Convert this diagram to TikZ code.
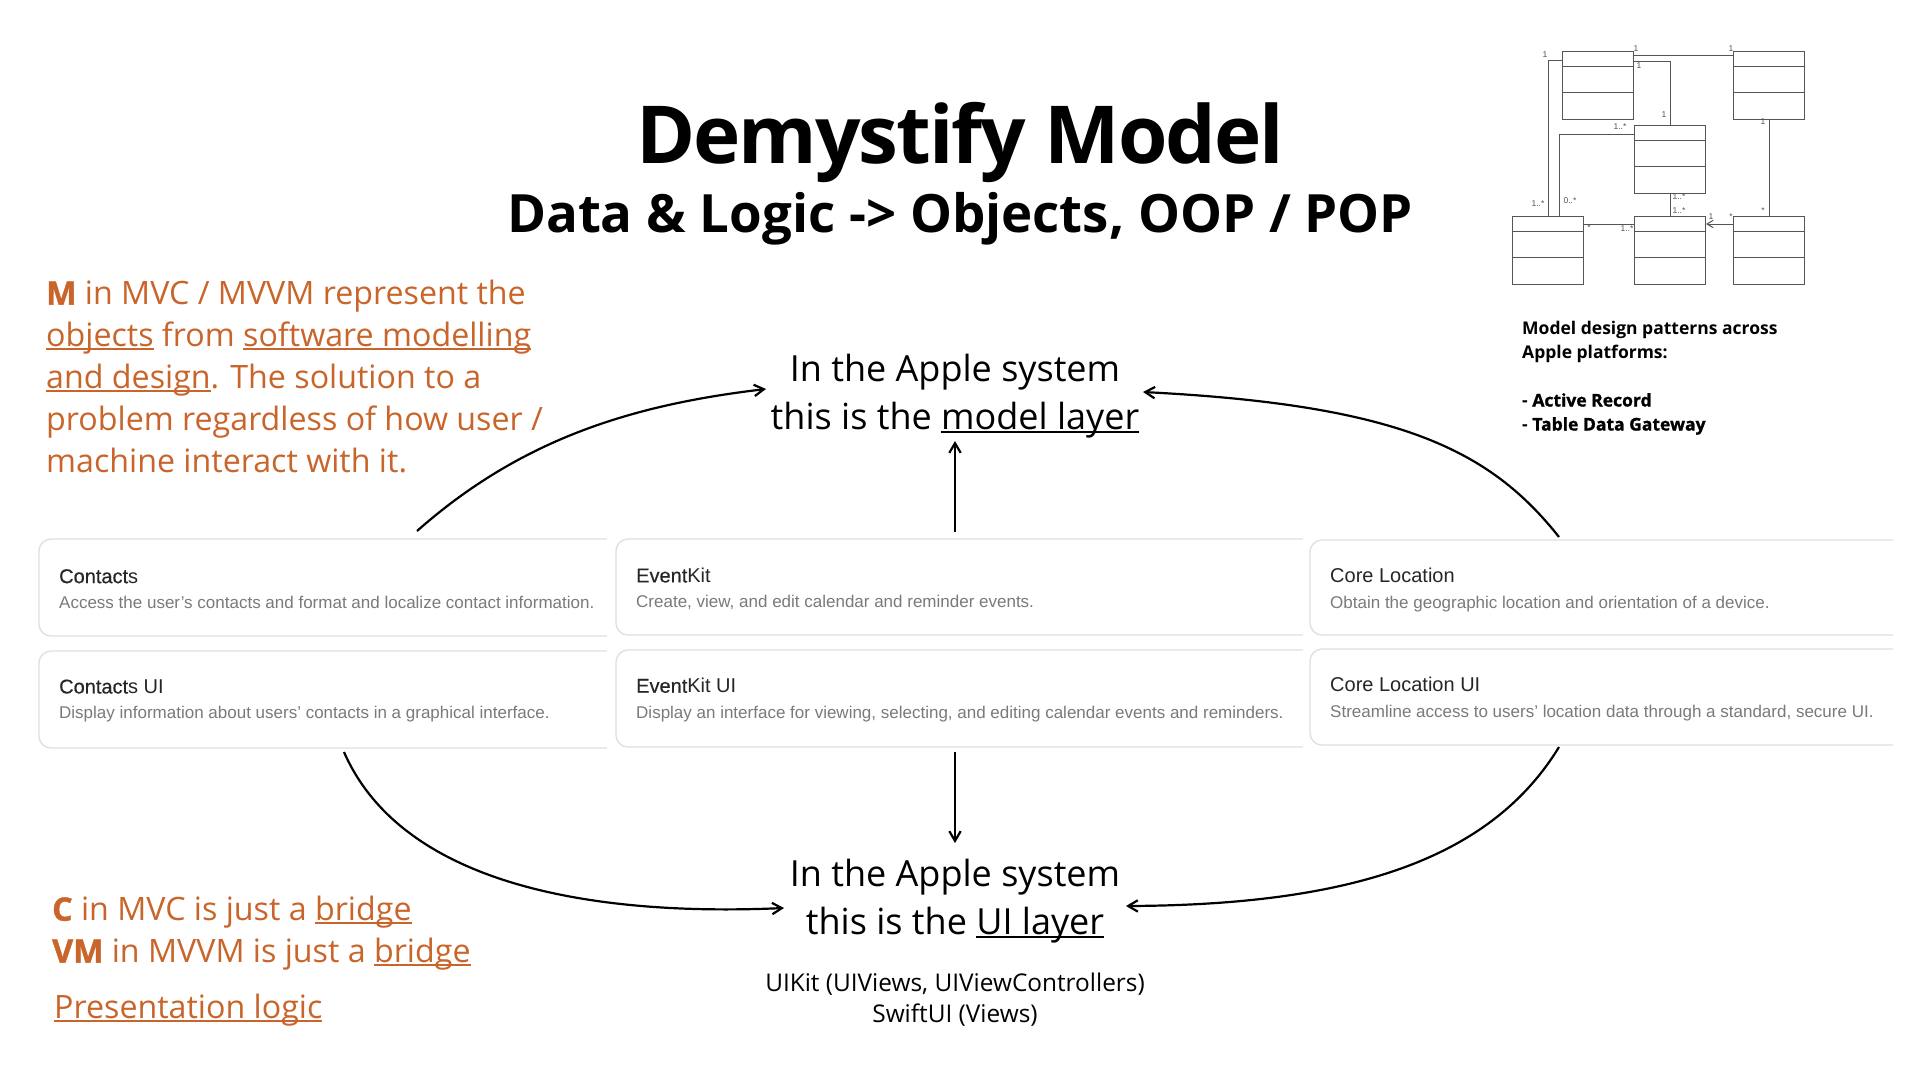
\documentclass[tikz,border=0pt]{standalone}
\usepackage{fontspec}
\usepackage{xcolor}
\setmainfont{Open Sans}
\newfontfamily\cardfont{Liberation Sans}
\usetikzlibrary{arrows.meta, positioning, calc}
\definecolor{rust}{HTML}{C9652B}
\definecolor{cardline}{HTML}{E0E0E0}
\definecolor{cardgrey}{HTML}{7A7A7C}
\definecolor{umlline}{HTML}{555555}
\newcommand{\fs}[2]{\fontsize{#1}{#2}\selectfont}
\newcommand{\heavy}[1]{{\bfseries\addfontfeature{FakeBold=1.2}#1}}
\newcommand{\lineunder}[1]{\setbox0=\hbox{#1}\rlap{\rule[-0.1em]{\wd0}{0.055em}}\box0\relax}
\newcommand{\med}[1]{{\addfontfeature{FakeBold=0.4}#1}}
\newcommand{\cardtext}[2]{{\cardfont\fs{20}{24}\color{black!85}#1}\\[12pt]{\cardfont\fs{17}{20}\color{cardgrey}#2}}
\begin{document}
\begin{tikzpicture}[
        x=1pt, y=-1pt,
        title/.style={inner sep=0pt, align=center, font=\fs{80}{90}\bfseries\addfontfeature{LetterSpace=-2.5}},
        subtitle/.style={inner sep=0pt, align=center, font=\fs{52.8}{60}\bfseries},
        layer/.style={inner sep=0pt, align=center, font=\fs{36}{48}},
        note/.style={inner sep=0pt, align=left, anchor=north west, text=rust, font=\fs{32.2}{42}},
        small/.style={inner sep=0pt, align=center, font=\fs{24.4}{31}},
        cardlabel/.style={inner sep=0pt, align=left, anchor=west},
        umlbox/.style={draw=umlline, line width=1pt, minimum width=71pt, minimum height=68pt, inner sep=0pt, anchor=north west},
        uml/.style={draw=umlline, line width=1pt},
        mult/.style={inner sep=0pt, text=umlline, font=\cardfont\fs{8.5}{9}},
        arrow/.style={-{Straight Barb[length=3.4mm, width=4mm]}, line width=2.2pt},
        card/.style={draw=cardline, line width=1.4pt, rounded corners=12pt}
    ]
    \useasboundingbox (0,0) rectangle (1920,1080);
    \fill[white] (0,0) rectangle (1920,1080);

    % heading
    \node[title] (head) at (960,142) {Demystify Model};
    \node[subtitle] (sub) at (960,219) {Data \& Logic -> Objects, OOP / POP};

    % the two layers
    \node[layer] (model) at (955,396) {In the Apple system\\this is the \lineunder{model layer}};
    \node[layer] (ui) at (955,901) {In the Apple system\\this is the \lineunder{UI layer}};
    \node[small] (uikit) at (955,1000) {UIKit (UIViews, UIViewControllers)\\SwiftUI (Views)};

    % notes
    \node[note] (mnote) at (46,280) {\heavy{M} in MVC / MVVM represent the\\\lineunder{objects} from \lineunder{software modelling}\\\lineunder{and design}. The solution to a\\problem regardless of how user /\\machine interact with it.};
    \node[note] (cnote) at (52,896) {\heavy{C} in MVC is just a \lineunder{bridge}\\\heavy{VM} in MVVM is just a \lineunder{bridge}};
    \node[note] (plogic) at (54,994) {\lineunder{Presentation logic}};

    % cards
    \draw[card] (607,539) -- (39,539) -- (39,636) -- (607,636);
    \draw[card] (607,651) -- (39,651) -- (39,748) -- (607,748);
    \draw[card] (1303,539) -- (616,539) -- (616,635) -- (1303,635);
    \draw[card] (1303,650) -- (616,650) -- (616,747) -- (1303,747);
    \draw[card] (1893,540) -- (1310,540) -- (1310,635) -- (1893,635);
    \draw[card] (1893,649) -- (1310,649) -- (1310,745) -- (1893,745);
    \node[cardlabel] (contacts) at (59,589) {\cardtext{\med{Contact}s}{Access the user’s contacts and format and localize contact information.}};
    \node[cardlabel] (contactsui) at (59,701) {\cardtext{\med{Contact}s UI}{Display information about users’ contacts in a graphical interface.}};
    \node[cardlabel] (eventkit) at (636,589) {\cardtext{\med{Event}Kit}{Create, view, and edit calendar and reminder events.}};
    \node[cardlabel] (eventkitui) at (636,700) {\cardtext{\med{Event}Kit UI}{Display an interface for viewing, selecting, and editing calendar events and reminders.}};
    \node[cardlabel] (location) at (1330,590) {\cardtext{Core Location}{Obtain the geographic location and orientation of a device.}};
    \node[cardlabel] (locationui) at (1330,699) {\cardtext{Core Location UI}{Streamline access to users’ location data through a standard, secure UI.}};

    % arrows
    \coordinate (c1) at (417,531);
    \coordinate (c2) at (955,532);
    \coordinate (c3) at (1559,537);
    \coordinate (c4) at (344,752);
    \coordinate (c5) at (955,752);
    \coordinate (c6) at (1559,747);
    \coordinate (mleft) at (766,389);
    \coordinate (mdown) at (955,441);
    \coordinate (mright) at (1143,392);
    \coordinate (uleft) at (784,908);
    \coordinate (utop) at (955,843);
    \coordinate (uright) at (1126,906);
    \draw[arrow] (c1) .. controls (520,440) and (630,405) .. (mleft);
    \draw[arrow] (c2) -- (mdown);
    \draw[arrow] (c3) .. controls (1490,450) and (1400,405) .. (mright);
    \draw[arrow] (c4) .. controls (400,880) and (580,917) .. (uleft);
    \draw[arrow] (c5) -- (utop);
    \draw[arrow] (c6) .. controls (1490,860) and (1350,905) .. (uright);

    % class diagram
    \foreach \name/\bx/\by in {ca/1562/51, cb/1733/51, cc/1634/125, cd/1512/216, ce/1634/216, cf/1733/216} {
        \node[umlbox] (\name) at (\bx,\by) {};
        \draw[uml] ($(\name.north west)+(0,15)$) -- ($(\name.north east)+(0,15)$);
        \draw[uml] ($(\name.north west)+(0,41.5)$) -- ($(\name.north east)+(0,41.5)$);
    }
    \draw[uml] ($(ca.north east)+(0,4)$) -- ($(cb.north west)+(0,4)$);
    \draw[uml] ($(ca.north east)+(0,10)$) -| (cc.north);
    \draw[uml] ($(ca.north west)+(0,9)$) -| (cd.north);
    \draw[uml] ($(cc.north west)+(0,9)$) -| ($(cd.north)+(11.5,0)$);
    \draw[uml] (cc.south) -- (ce.north);
    \draw[uml] ($(cd.north east)+(0,8)$) -- ($(ce.north west)+(0,8)$);
    \draw[uml, -{Straight Barb[length=2.2mm, width=2.6mm]}] ($(cf.north west)+(0,8)$) -- ($(ce.north east)+(0,8)$);
    \draw[uml] (cb.south) -- (cf.north);
    \node[mult] (m1) at (1545,55) {1};
    \node[mult] (m2) at (1636,49) {1};
    \node[mult] (m3) at (1639,66) {1};
    \node[mult] (m4) at (1731,49) {1};
    \node[mult] (m5) at (1664,115) {1};
    \node[mult] (m6) at (1763,122) {1};
    \node[mult] (m7) at (1620,127) {1..*};
    \node[mult] (m8) at (1538,204) {1..*};
    \node[mult] (m9) at (1570,201) {0..*};
    \node[mult] (m10) at (1679,197) {1..*};
    \node[mult] (m11) at (1679,211) {1..*};
    \node[mult] (m12) at (1589,228) {*};
    \node[mult] (m13) at (1627,229) {1..*};
    \node[mult] (m14) at (1711,217) {1};
    \node[mult] (m15) at (1731,217) {*};
    \node[mult] (m16) at (1763,211) {*};

    % class diagram caption
    \node[inner sep=0pt, align=left, anchor=north west, font=\fs{17.5}{24}\bfseries] (caption) at (1522,321) {Model design patterns across\\Apple platforms:\\\mbox{}\\- \heavy{Active Record}\\- \heavy{Table Data Gateway}};
\end{tikzpicture}
\end{document}
